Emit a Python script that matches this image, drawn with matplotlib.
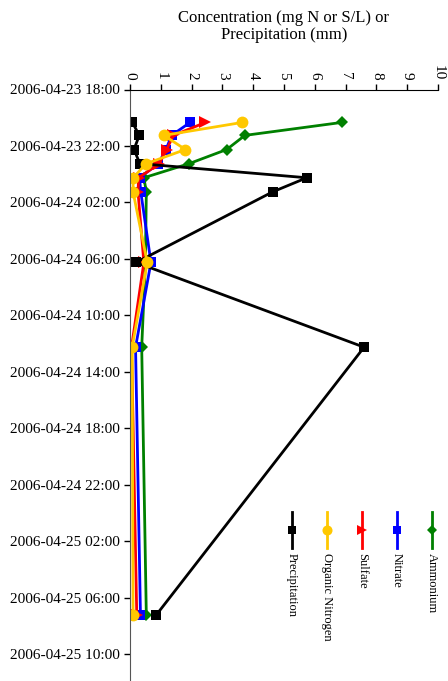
import matplotlib
matplotlib.use("Agg")
import matplotlib.pyplot as plt
import matplotlib.dates as mdates
from matplotlib.lines import Line2D
import pandas as pd

plt.rcParams['font.family'] = ['Liberation Serif', 'DejaVu Serif']

# Sampling times
times = pd.to_datetime([
    "2006-04-23 20:20", "2006-04-23 21:15", "2006-04-23 22:15", "2006-04-23 23:15",
    "2006-04-24 00:15", "2006-04-24 01:15", "2006-04-24 06:15", "2006-04-24 12:15",
    "2006-04-25 07:15",
])

# Series values (mg N or S/L, precipitation in mm)
ammonium = [6.87, 3.73, 3.14, 1.92, 0.45, 0.53, 0.50, 0.38, 0.53]
nitrate = [1.95, 1.35, 1.17, 0.92, 0.31, 0.35, 0.68, 0.18, 0.34]
sulfate = [2.45, 1.41, 1.19, 0.95, 0.28, 0.26, 0.45, 0.05, 0.22]
precipitation = [0.08, 0.30, 0.13, 0.32, 5.74, 4.63, 0.20, 7.60, 0.84]
organic_n = [3.64, 1.10, 1.80, 0.53, 0.10, 0.10, 0.56, 0.07, 0.10]

series = [
    ("Ammonium", ammonium, "#008000", "D", 6.5),
    ("Nitrate", nitrate, "#0000FF", "s", 7),
    ("Sulfate", sulfate, "#FF0000", ">", 8),
    ("Precipitation", precipitation, "#000000", "s", 7),
    ("Organic Nitrogen", organic_n, "#FFC800", "o", 8.5),
]
legend_order = ["Precipitation", "Organic Nitrogen", "Sulfate", "Nitrate", "Ammonium"]

W, H = 448, 681
fig = plt.figure(figsize=(W / 100, H / 100), dpi=100)
ax = fig.add_axes([130 / W, 0.0, 308 / W, 1 - 89.5 / H])

for name, vals, color, marker, ms in series:
    ax.plot(vals, times, color=color, marker=marker, markersize=ms, linewidth=2,
            markeredgewidth=0, solid_joinstyle="miter")

start = pd.Timestamp("2006-04-23 18:00")
end = start + pd.Timedelta(hours=(H - 89.5) / 14.12)
ax.set_ylim(end, start)
ax.yaxis.set_major_locator(mdates.HourLocator(byhour=[2, 6, 10, 14, 18, 22]))
ax.yaxis.set_major_formatter(mdates.DateFormatter("%Y-%m-%d %H:%M"))

ax.set_xlim(0, 10)
ax.set_xticks(range(0, 11))
ax.xaxis.tick_top()
for lbl in ax.get_xticklabels():
    lbl.set_rotation(-90)

ax.tick_params(axis="both", direction="out", length=4, width=1, colors="#000000",
               labelsize=11)
ax.tick_params(axis="y", pad=3)
ax.tick_params(axis="x", pad=3)

ax.spines["right"].set_visible(False)
ax.spines["bottom"].set_visible(False)
ax.spines["left"].set_color("#555555")
ax.spines["top"].set_color("#000000")

fig.text(284 / W, 1 - 26.5 / H, "Concentration (mg N or S/L) or\nPrecipitation (mm)",
         ha="center", va="center", fontsize=12, linespacing=1.05)

# Vertical legend in the lower right
styles = {name: (color, marker, ms) for name, _, color, marker, ms in series}
leg_x = [292, 327, 362, 397, 432]
for x, name in zip(leg_x, legend_order):
    color, marker, ms = styles[name]
    fig.add_artist(Line2D([x / W, x / W], [1 - 512 / H, 1 - 548 / H],
                          transform=fig.transFigure, color=color, linewidth=2))
    fig.add_artist(Line2D([x / W], [1 - 530 / H], transform=fig.transFigure,
                          color=color, marker=marker, markersize=ms * 0.85,
                          markeredgewidth=0, linestyle="none"))
    fig.text(x / W, 1 - 553 / H, name, rotation=-90, ha="center", va="top",
             fontsize=9)

fig.savefig("out.png", dpi=100)
